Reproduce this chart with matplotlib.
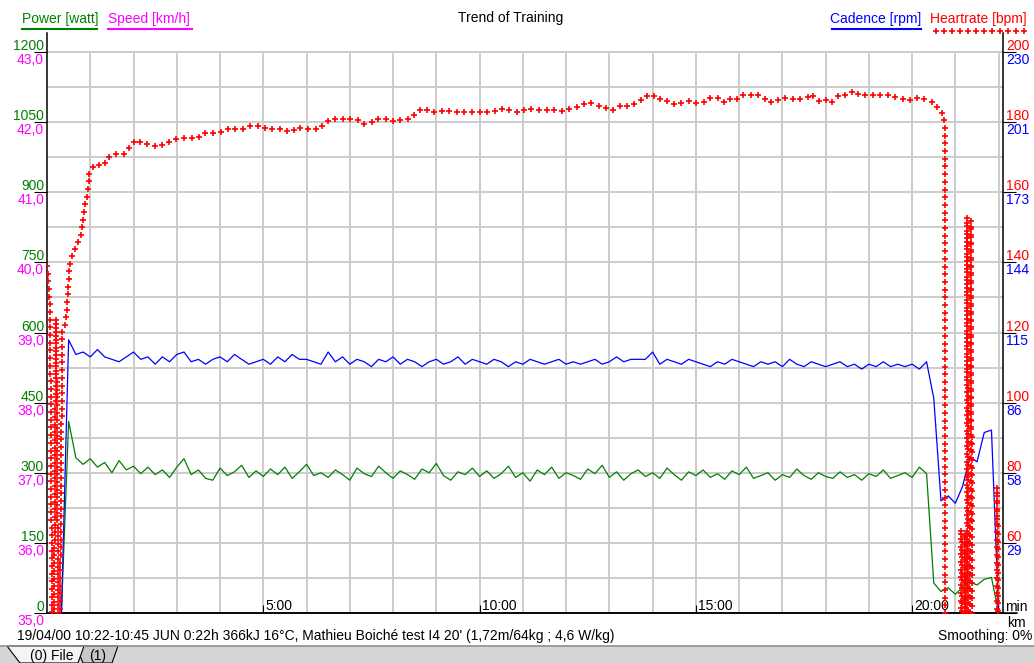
import numpy as np
import matplotlib
matplotlib.use("Agg")
import matplotlib.pyplot as plt
import matplotlib.transforms as mtransforms
from matplotlib.lines import Line2D
from matplotlib.patches import Polygon, Rectangle

# ---------------- data ----------------
rec_interval_s = 10  # power / cadence recording interval

power_w = [
    0, 0, 0, 410, 332, 318, 330, 312, 322, 300,
    326, 306, 314, 298, 312, 296, 306, 290, 312, 330,
    296, 306, 288, 284, 310, 294, 302, 316, 290, 304,
    292, 308, 296, 312, 288, 302, 318, 294, 300, 290,
    306, 296, 284, 310, 298, 292, 314, 300, 288, 304,
    296, 286, 308, 300, 320, 294, 284, 302, 296, 310,
    292, 304, 288, 298, 314, 290, 300, 282, 306, 296,
    312, 288, 300, 294, 286, 308, 298, 316, 290, 302,
    284, 298, 306, 292, 300, 288, 310, 296, 284, 302,
    294, 306, 290, 298, 286, 304, 296, 312, 288, 294,
    300, 284, 296, 290, 308, 294, 286, 300, 292, 288,
    302, 290, 296, 284, 298, 292, 306, 288, 294, 300,
    290, 312, 298, 64, 46, 54, 40, 56, 66, 60,
    72, 76, 0]

cadence_rpm = [
    0, 0, 0, 112, 106, 107, 105, 108, 105, 104,
    103, 105, 107, 104, 105, 102, 105, 103, 106, 107,
    103, 104, 102, 104, 105, 103, 106, 104, 102, 103,
    104, 102, 105, 103, 106, 104, 104, 103, 102, 107,
    103, 105, 102, 104, 103, 101, 104, 103, 105, 102,
    104, 103, 101, 103, 104, 102, 103, 105, 102, 104,
    103, 102, 104, 103, 101, 103, 102, 104, 103, 102,
    103, 104, 102, 103, 102, 103, 104, 102, 103, 105,
    103, 104, 104, 104, 107, 102, 104, 103, 102, 104,
    103, 102, 101, 103, 102, 104, 103, 102, 101, 103,
    102, 103, 101, 104, 102, 101, 103, 102, 101, 102,
    103, 101, 102, 100, 102, 101, 103, 101, 102, 101,
    102, 100, 103, 88, 46, 48, 45, 52, 64, 62,
    74, 75, 0]

hr_min = [
    0.00, 0.07, 0.14, 0.21, 0.28, 0.35, 0.42, 0.46, 0.49, 0.53,
    0.58, 0.65, 0.76, 0.81, 0.88, 0.92, 0.99, 1.11, 1.29, 1.41,
    1.59, 1.78, 1.92, 2.06, 2.22, 2.40, 2.59, 2.77, 2.94, 3.12,
    3.30, 3.47, 3.65, 3.84, 4.00, 4.18, 4.37, 4.55, 4.71, 4.90,
    5.08, 5.25, 5.43, 5.62, 5.78, 5.94, 6.12, 6.31, 6.45, 6.61,
    6.79, 6.96, 7.14, 7.33, 7.51, 7.67, 7.86, 8.04, 8.23, 8.39,
    8.55, 8.69, 8.87, 9.06, 9.22, 9.41, 9.59, 9.75, 9.94, 10.12,
    10.31, 10.45, 10.63, 10.82, 10.98, 11.14, 11.32, 11.49, 11.67, 11.86,
    12.04, 12.20, 12.39, 12.57, 12.76, 12.92, 13.10, 13.29, 13.45, 13.64,
    13.77, 13.96, 14.10, 14.28, 14.44, 14.63, 14.81, 15.00, 15.16, 15.35,
    15.53, 15.67, 15.81, 15.97, 16.13, 16.29, 16.50, 16.64, 16.82, 16.99,
    17.17, 17.36, 17.52, 17.68, 17.82, 17.98, 18.14, 18.30, 18.49, 18.65,
    18.81, 18.97, 19.18, 19.34, 19.51, 19.71, 19.88, 20.06, 20.24, 20.43,
    20.59, 20.68, 20.75, 20.77, 21.12, 21.14, 21.16, 21.20, 21.22, 21.24,
    21.25, 21.27, 21.30, 21.34, 21.36, 21.39, 21.95, 21.97, 21.99]

hr_bpm = [
    139, 126, 0, 124, 0, 121, 122, 127, 133, 139,
    142, 144, 147, 150, 156, 159, 166, 168, 167.5, 170,
    171, 171, 173, 175, 174, 173.5, 173, 174, 175, 175.5,
    175.5, 175.5, 177, 177, 177, 178, 178, 178, 179, 179,
    178, 178, 178, 177, 178.5, 178, 178, 178, 180, 181,
    181, 181, 181, 179.5, 180, 181, 181, 180, 181, 181,
    183, 184, 183, 183, 183.5, 183, 183, 183, 183, 183,
    183, 184, 183.5, 183, 183, 184, 183.5, 183.5, 183.5, 183,
    183.5, 184, 185, 185.5, 184.6, 184, 183.5, 185, 184.6, 185.5,
    187, 188, 186.6, 186.6, 185, 185.5, 186, 185.5, 185.5, 187,
    187, 185.5, 187, 186.6, 188, 187.6, 187.6, 186, 185.5, 187,
    186.6, 186.6, 186.6, 188, 186, 186.6, 185.5, 187.6, 187.6, 189,
    187.6, 187.6, 188, 187.6, 187.6, 187, 186, 187, 186.6, 186,
    184, 183, 180, 0, 0, 64, 0, 0, 63, 0,
    0, 153, 0, 0, 152, 0, 0, 76, 0]

power_ticks = [0, 150, 300, 450, 600, 750, 900, 1050, 1200]
power_labels = ["0", "150", "300", "450", "600", "750", "900", "1050", "1200"]
speed_labels = ["35,0", "36,0", "37,0", "38,0", "39,0", "40,0", "41,0", "42,0", "43,0"]
hr_ticks = [40, 60, 80, 100, 120, 140, 160, 180, 200]
hr_labels = ["", "60", "80", "100", "120", "140", "160", "180", "200"]
cad_labels = ["", "29", "58", "86", "115", "144", "173", "201", "230"]
time_ticks = [5, 10, 15, 20]
time_labels = ["5:00", "10:00", "15:00", "20:00"]
info_text = "19/04/00 10:22-10:45 JUN 0:22h 366kJ 16°C, Mathieu Boiché test I4 20' (1,72m/64kg ; 4,6 W/kg)"

GREEN, MAGENTA, BLUE, RED = "#008000", "#ff00ff", "#0000ff", "#ff0000"
GRID = "#cccccc"

# ---------------- figure ----------------
W, H = 1034, 663
plt.rcParams["font.family"] = ["Liberation Sans", "DejaVu Sans"]
plt.rcParams["font.size"] = 10
fig = plt.figure(figsize=(W / 100, H / 100), dpi=100)
fig.patch.set_facecolor("white")


def fx(px):
    return px / W


def fy(py):
    return 1 - py / H


# plot area: spines from y=33 to 613, data top (1200 W) at y=52
L, R, T, B, DATA_TOP = 47, 1003, 33, 613, 52
extra = (DATA_TOP - T) / (B - DATA_TOP)
ax = fig.add_axes([fx(L), fy(B), (R - L) / W, (B - T) / H])
ax.set_xlim(0, 22.1)
ax.set_ylim(0, 1200 * (1 + extra))

ax_cad = ax.twinx()
ax_cad.set_ylim(0, 230 * (1 + extra))
ax_hr = ax.twinx()
ax_hr.set_ylim(40, 40 + 160 * (1 + extra))
for a in (ax_cad, ax_hr):
    for s in a.spines.values():
        s.set_visible(False)
ax_cad.yaxis.set_visible(False)

# grid
ax.hlines(np.arange(75, 1201, 75), 0, 22.1, color=GRID, lw=1.4, zorder=0)
ax.vlines(np.arange(1, 23), 0, 1200, color=GRID, lw=1.4, zorder=0)

for side in ("left", "right", "bottom"):
    ax.spines[side].set_color("black")
    ax.spines[side].set_linewidth(1.1)
ax.spines["top"].set_visible(False)
ax.plot([0, (1017 - L) / (R - L)], [0, 0], transform=ax.transAxes,
        color="black", lw=1.1, clip_on=False)

# ticks
ax.set_yticks(power_ticks)
ax.tick_params(axis="y", direction="out", length=9.4, width=0.8, labelleft=False)
ax_hr.set_yticks(hr_ticks)
ax_hr.tick_params(axis="y", direction="out", length=9.4, width=0.8, labelright=False)
ax.set_xticks(time_ticks)
ax.tick_params(axis="x", direction="in", length=5.8, width=0.8, labelbottom=False)

# axis labels
yl = mtransforms.blended_transform_factory(ax.transAxes, ax.transData)
for i, p in enumerate(power_ticks):
    ax.text(0, p, power_labels[i], color=GREEN, ha="right", va="baseline",
            transform=mtransforms.offset_copy(yl, fig=fig, x=-3, y=2, units="dots"))
    ax.text(0, p, speed_labels[i], color=MAGENTA, ha="right", va="top",
            transform=mtransforms.offset_copy(yl, fig=fig, x=-3, y=-1, units="dots"))
    ax.text(1, p, hr_labels[i], color=RED, ha="left", va="baseline",
            transform=mtransforms.offset_copy(yl, fig=fig, x=3, y=2, units="dots"))
    ax.text(1, p, cad_labels[i], color=BLUE, ha="left", va="top",
            transform=mtransforms.offset_copy(yl, fig=fig, x=3, y=-1, units="dots"))

xl = mtransforms.blended_transform_factory(ax.transData, ax.transAxes)
for t, lab in zip(time_ticks, time_labels):
    ax.text(t, 0, lab, ha="left", va="baseline", color="black",
            transform=mtransforms.offset_copy(xl, fig=fig, x=2, y=3, units="dots"))

# ---------------- series ----------------
t_rec = np.arange(len(power_w)) * rec_interval_s / 60.0
ax.plot(t_rec, power_w, color=GREEN, lw=0.9, zorder=3)
ax_cad.plot(t_rec, cadence_rpm, color=BLUE, lw=0.9, zorder=3)


def plus_pen(axis, xs, ys, step=7.7):
    # the heart rate curve is drawn with a "+" pen stamped along the path
    pts = axis.transData.transform(np.column_stack([xs, ys]))
    seg = np.hypot(*np.diff(pts, axis=0).T)
    cum = np.concatenate([[0], np.cumsum(seg)])
    s = np.arange(0, cum[-1], step)
    stamped = np.column_stack([np.interp(s, cum, pts[:, 0]), np.interp(s, cum, pts[:, 1])])
    return axis.transData.inverted().transform(stamped)


hr_pts = plus_pen(ax_hr, hr_min, hr_bpm)
ax_hr.plot(hr_pts[:, 0], hr_pts[:, 1], ls="none", marker="+", ms=4.6, mew=1.2,
           color=RED, zorder=4)

# ---------------- header ----------------
fig.text(fx(22), fy(19), "Power [watt]", color=GREEN, va="center", ha="left")
fig.add_artist(Line2D([fx(22), fx(97)], [fy(29), fy(29)], color=GREEN, lw=1.5))
fig.text(fx(108), fy(19), "Speed [km/h]", color=MAGENTA, va="center", ha="left")
fig.add_artist(Line2D([fx(108), fx(192)], [fy(29), fy(29)], color=MAGENTA, lw=1.5))
fig.text(fx(511), fy(18), "Trend of Training", color="black", va="center", ha="center")
fig.text(fx(921), fy(19), "Cadence [rpm]", color=BLUE, va="center", ha="right")
fig.add_artist(Line2D([fx(832), fx(921)], [fy(29), fy(29)], color=BLUE, lw=1.5))
fig.text(fx(1027), fy(19), "Heartrate [bpm]", color=RED, va="center", ha="right")
leg_x = np.linspace(fx(936), fx(1024), 12)
fig.add_artist(Line2D(leg_x, [fy(31)] * len(leg_x), ls="none", marker="+",
                      ms=4.6, mew=1.2, color=RED))

# ---------------- footer ----------------
fig.text(fx(1005), fy(611), "min", color="black", va="baseline", ha="left")
fig.text(fx(1007), fy(627), "km", color="black", va="baseline", ha="left")
fig.text(fx(17), fy(640), info_text, color="black", va="baseline", ha="left")
fig.text(fx(1032), fy(640), "Smoothing: 0%", color="black", va="baseline", ha="right")

fig.add_artist(Rectangle((0, 0), 1, fy(646), transform=fig.transFigure,
                         facecolor="#d6d6d6", edgecolor="none"))
fig.add_artist(Line2D([0, 1], [fy(646), fy(646)], color="#909090", lw=1.2))
tab1 = Polygon([(fx(76), fy(646)), (fx(118), fy(646)), (fx(112), fy(663)), (fx(83), fy(663))],
               closed=True, transform=fig.transFigure, facecolor="#c8c8c8",
               edgecolor="black", lw=0.8)
tab0 = Polygon([(fx(7), fy(646)), (fx(84), fy(646)), (fx(78), fy(663)), (fx(20), fy(663))],
               closed=True, transform=fig.transFigure, facecolor="#f4f4f4",
               edgecolor="black", lw=0.8)
fig.add_artist(tab1)
fig.add_artist(tab0)
fig.text(fx(30), fy(660), "(0) File", color="black", va="baseline", ha="left")
fig.text(fx(89), fy(660), "(1)", color="black", va="baseline", ha="left")

fig.savefig("out.png", dpi=100)
